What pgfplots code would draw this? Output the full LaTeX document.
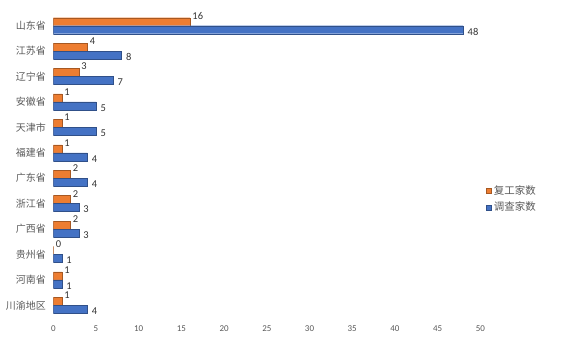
\documentclass[border=0pt]{standalone}
\usepackage{pgfplots}
\pgfplotsset{compat=1.18}
\usepackage{fontspec}
\setmainfont{Carlito}
\newfontfamily\cjk{Noto Sans CJK SC}
\definecolor{cOr}{HTML}{ED7D31}
\definecolor{cBl}{HTML}{4472C4}
\definecolor{cTk}{HTML}{595959}
\begin{document}
\begin{tikzpicture}
\useasboundingbox (0,0) rectangle (567bp,338bp);
\begin{axis}[
  at={(53.3bp,20bp)}, anchor=south west,
  scale only axis, width=427bp, height=305bp,
  xbar, y dir=reverse,
  xmin=0, xmax=50, ymin=-0.5, ymax=11.5,
  xtick={0,5,...,50},
  ytick={0,...,11},
  yticklabels={山东省,江苏省,辽宁省,安徽省,天津市,福建省,广东省,浙江省,广西省,贵州省,河南省,川渝地区},
  axis line style={draw=none},
  major tick length=0pt,
  /pgf/number format/assume math mode=true,
  xticklabel style={font=\fontsize{9}{10}\selectfont, text=cTk, yshift=-4bp},
  yticklabel style={font=\cjk\fontsize{10}{11}\selectfont, text=cTk, xshift=-4bp},
  bar width=8bp,
  nodes near coords,
  every node near coord/.append style={font=\fontsize{10.5}{12}\selectfont, text=black!80},
  legend style={draw=none, at={(1,0.39)}, anchor=west, xshift=3bp,
    font=\cjk\fontsize{10.5}{12}\selectfont, text=cTk, row sep=2bp,
    /tikz/every even column/.append style={column sep=0pt}},
  legend cell align=left,
  legend image code/.code={\fill[#1] (0bp,-2.5bp) rectangle (5bp,2.5bp);},
]
\addplot[fill=cOr, draw=cOr!70!black, line width=0.4pt, bar shift=4bp,
  every node near coord/.append style={anchor=south west, xshift=-1bp, yshift=-1bp}]
  coordinates {(16,0) (4,1) (3,2) (1,3) (1,4) (1,5) (2,6) (2,7) (2,8) (0,9) (1,10) (1,11)};
\addplot[fill=cBl, draw=cBl!70!black, line width=0.4pt, bar shift=-4bp,
  every node near coord/.append style={anchor=west, xshift=1bp, yshift=-2bp}]
  coordinates {(48,0) (8,1) (7,2) (5,3) (5,4) (4,5) (4,6) (3,7) (3,8) (1,9) (1,10) (4,11)};
\legend{复工家数,调查家数}
\end{axis}
\end{tikzpicture}
\end{document}
